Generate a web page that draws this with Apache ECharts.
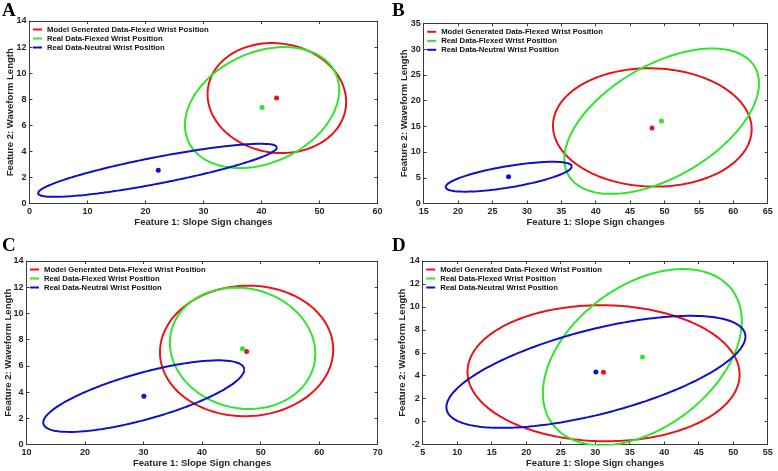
<!DOCTYPE html>
<html>
<head>
<meta charset="utf-8">
<script src="https://cdn.jsdelivr.net/npm/echarts@6/dist/echarts.min.js"></script>
<style>
html,body{margin:0;padding:0;background:#fff;}
#chart{width:778px;height:471px;}
</style>
</head>
<body>
<div id="chart"></div>
<script>
// ---- DATA ----
const seriesNames = ['Model Generated Data-Flexed Wrist Position', 'Real Data-Flexed Wrist Position', 'Real Data-Neutral Wrist Position'];
const panelLabels = ['A', 'B', 'C', 'D'];
const xAxisTitle = 'Feature 1: Slope Sign changes';
const yAxisTitle = 'Feature 2: Waveform Length';

// axis ranges [min, max, interval]
const xRangeA = [0, 60, 10];
const yRangeA = [0, 14, 2];
const xRangeB = [15, 65, 5];
const yRangeB = [0, 35, 5];
const xRangeC = [10, 70, 10];
const yRangeC = [0, 14, 2];
const xRangeD = [5, 55, 5];
const yRangeD = [-2, 14, 2];

// ellipses: [centerX, centerY, halfWidthX, halfHeightY, correlation]
const ellipsesA = [[42.65, 8.09, 11.95, 4.22, -0.07], [40.1, 7.36, 13.3, 4.64, 0.29], [22.07, 2.545, 20.63, 2.035, 0.862]];
const ellipsesB = [[48.23, 14.77, 14.44, 11.49, -0.03], [49.59, 15.99, 14.15, 14.12, 0.52], [27.36, 5.2, 9.2, 2.9, 0.69]];
const ellipsesC = [[47.6, 7.14, 14.8, 4.98, 0.02], [46.92, 7.34, 12.42, 4.63, -0.09], [30.03, 3.69, 17.18, 2.73, 0.74]];
const ellipsesD = [[31.21, 4.215, 19.72, 5.93, -0.02], [36.83, 5.62, 14.41, 7.68, 0.41], [30.1, 4.335, 21.67, 4.885, 0.63]];

// class means (dots)
const meansA = [[42.6, 8.1], [40.1, 7.36], [22.2, 2.55]];
const meansB = [[48.2, 14.67], [49.56, 16.0], [27.33, 5.2]];
const meansC = [[47.6, 7.1], [46.9, 7.3], [30.06, 3.68]];
const meansD = [[31.2, 4.29], [36.85, 5.62], [30.1, 4.32]];

// ---- BUILD ----
const colors = ['#e8141a', '#2ee62e', '#1010c8'];
const sans = '"Liberation Sans", Arial, sans-serif';
const axisColor = '#3a3a3a';
const textColor = '#262626';

function ellipsePoints(p) {
  const [cx, cy, rx, ry, rho] = p;
  const s = Math.sqrt(1 - rho * rho);
  const pts = [];
  const n = 240;
  for (let i = 0; i <= n; i++) {
    const t = 2 * Math.PI * i / n;
    pts.push([cx + rx * Math.cos(t), cy + ry * (rho * Math.cos(t) + s * Math.sin(t))]);
  }
  return pts;
}

const panels = [
  {label: panelLabels[0], xr: xRangeA, yr: yRangeA, ell: ellipsesA, mean: meansA,
   grid: {left: 29.5, top: 21, width: 348, height: 182.5}, letter: [2, 1.5], yGap: 14},
  {label: panelLabels[1], xr: xRangeB, yr: yRangeB, ell: ellipsesB, mean: meansB,
   grid: {left: 423.7, top: 23.3, width: 344, height: 180.2}, letter: [392, 1.5], yGap: 14},
  {label: panelLabels[2], xr: xRangeC, yr: yRangeC, ell: ellipsesC, mean: meansC,
   grid: {left: 26.5, top: 261, width: 351.2, height: 183.5}, letter: [2, 236.5], yGap: 13.5},
  {label: panelLabels[3], xr: xRangeD, yr: yRangeD, ell: ellipsesD, mean: meansD,
   grid: {left: 422.7, top: 261, width: 345, height: 183.5}, letter: [392, 236.5], yGap: 15}
];

const option = {
  animation: false,
  backgroundColor: '#fff',
  title: [], grid: [], xAxis: [], yAxis: [], legend: [], series: []
};

panels.forEach((p, gi) => {
  option.grid.push(Object.assign({containLabel: false}, p.grid));
  option.title.push({
    text: p.label, left: p.letter[0], top: p.letter[1], padding: 0,
    textStyle: {fontFamily: '"Liberation Serif", "Times New Roman", serif', fontWeight: 'bold', fontSize: 19, color: '#000'}
  });
  const axCommon = {
    gridIndex: gi,
    axisLine: {show: true, onZero: false, lineStyle: {color: axisColor, width: 1}},
    axisTick: {show: true, inside: true, length: 3, lineStyle: {color: axisColor}},
    splitLine: {show: false}
  };
  option.xAxis.push(Object.assign({}, axCommon, {
    type: 'value', position: 'bottom', min: p.xr[0], max: p.xr[1], interval: p.xr[2],
    axisLabel: {fontFamily: sans, fontWeight: 'bold', fontSize: 9, color: textColor, margin: 4},
    name: xAxisTitle, nameLocation: 'middle', nameGap: 13.5, nameMoveOverlap: false,
    nameTextStyle: {fontFamily: sans, fontWeight: 'bold', fontSize: 9.5, color: textColor}
  }));
  option.xAxis.push(Object.assign({}, axCommon, {
    type: 'value', position: 'top', min: p.xr[0], max: p.xr[1], interval: p.xr[2],
    axisLabel: {show: false}
  }));
  option.yAxis.push(Object.assign({}, axCommon, {
    type: 'value', position: 'left', min: p.yr[0], max: p.yr[1], interval: p.yr[2],
    axisLabel: {fontFamily: sans, fontWeight: 'bold', fontSize: 9, color: textColor, margin: 3},
    name: yAxisTitle, nameLocation: 'middle', nameGap: p.yGap, nameMoveOverlap: false,
    nameTextStyle: {fontFamily: sans, fontWeight: 'bold', fontSize: 9.5, color: textColor}
  }));
  option.yAxis.push(Object.assign({}, axCommon, {
    type: 'value', position: 'right', min: p.yr[0], max: p.yr[1], interval: p.yr[2],
    axisLabel: {show: false}
  }));
  option.legend.push({
    orient: 'vertical', left: p.grid.left + 3.5, top: p.grid.top + 4, padding: 0,
    itemGap: 0, itemWidth: 9, itemHeight: 2, icon: 'rect', selectedMode: false,
    data: seriesNames,
    textStyle: {fontFamily: sans, fontWeight: 'bold', fontSize: 7.7, color: '#111', lineHeight: 9}
  });
  p.ell.forEach((e, k) => {
    option.series.push({
      type: 'line', name: seriesNames[k], xAxisIndex: gi * 2, yAxisIndex: gi * 2,
      data: ellipsePoints(e), showSymbol: false, symbol: 'none', smooth: false, clip: true,
      lineStyle: {color: colors[k], width: 2}, itemStyle: {color: colors[k]}, z: 2
    });
  });
  p.mean.forEach((m, k) => {
    option.series.push({
      type: 'scatter', name: 'mean-' + k, xAxisIndex: gi * 2, yAxisIndex: gi * 2,
      data: [m], symbolSize: 5, itemStyle: {color: colors[k], opacity: 1}, z: 3
    });
  });
});

const chart = echarts.init(document.getElementById('chart'), null, {renderer: 'canvas'});
chart.setOption(option);
</script>
</body>
</html>
